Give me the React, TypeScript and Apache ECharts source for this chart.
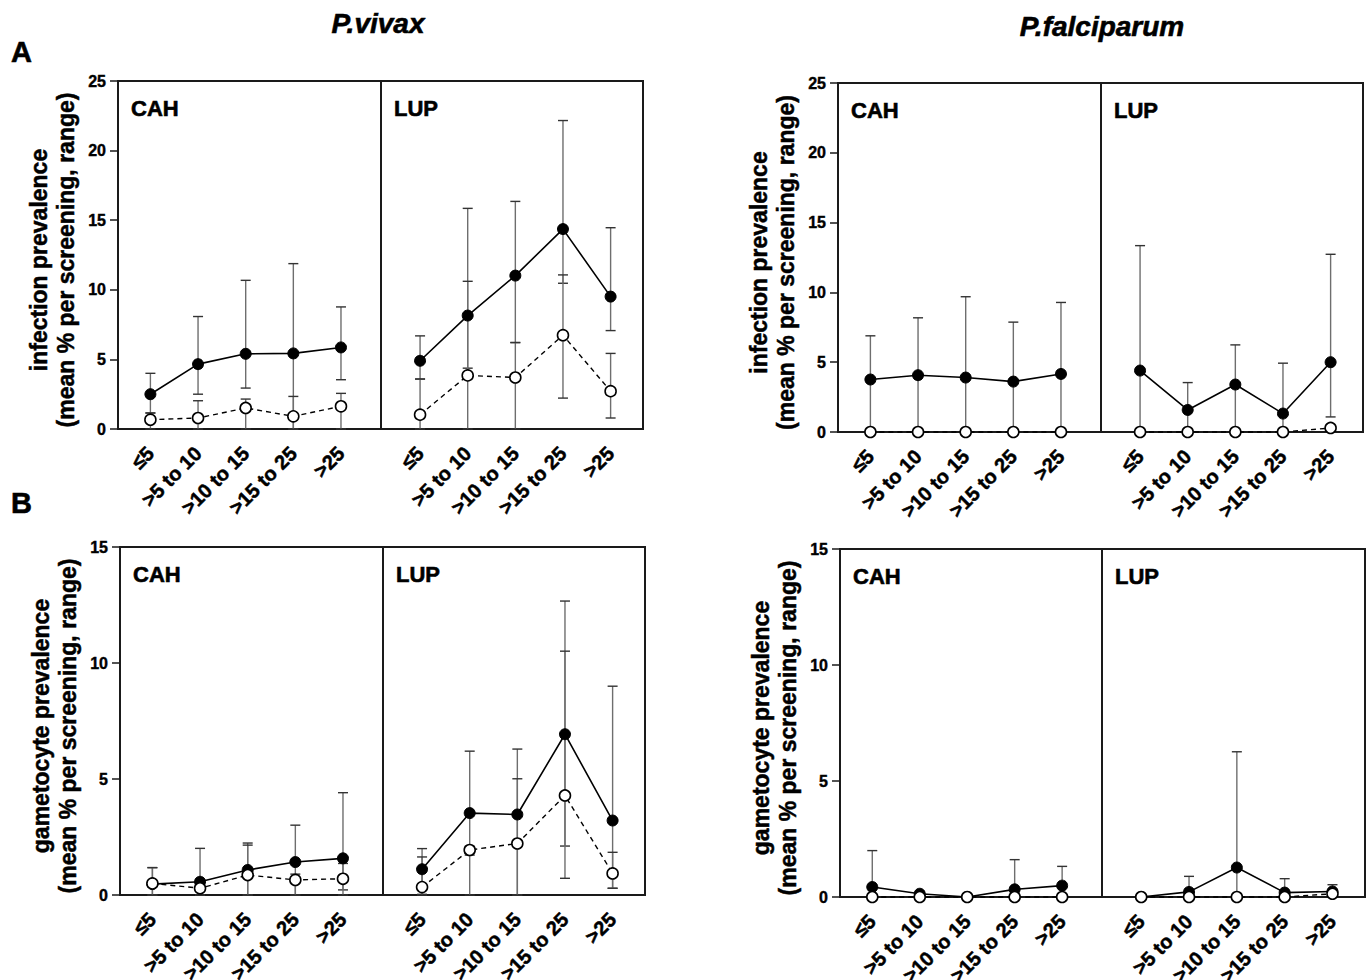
import React, { useEffect, useRef } from "react";
import * as echarts from "echarts";

// ---------- data ----------
const categories = ["≤5", ">5 to 10", ">10 to 15", ">15 to 25", ">25"];
const sites = ["CAH", "LUP"];
const infectionTicks = [0, 5, 10, 15, 20, 25];
const gametocyteTicks = [0, 5, 10, 15];

// A: P.vivax infection prevalence
const vivaxInfCAHFilled = [2.5, 4.66, 5.4, 5.43, 5.86];
const vivaxInfCAHFilledLow = [1.15, 2.5, 2.94, 0, 3.54];
const vivaxInfCAHFilledHigh = [4.0, 8.08, 10.68, 11.88, 8.77];
const vivaxInfCAHOpen = [0.67, 0.79, 1.51, 0.91, 1.63];
const vivaxInfCAHOpenLow = [0, 0, 0, 0, 0];
const vivaxInfCAHOpenHigh = [1.15, 2.03, 2.15, 2.34, 2.56];

const vivaxInfLUPFilled = [4.9, 8.15, 11.02, 14.36, 9.51];
const vivaxInfLUPFilledLow = [3.59, 4.37, 6.21, 10.47, 7.07];
const vivaxInfLUPFilledHigh = [6.69, 15.85, 16.35, 22.16, 14.46];
const vivaxInfLUPOpen = [1.03, 3.85, 3.7, 6.74, 2.72];
const vivaxInfLUPOpenLow = [0, 0, 0, 2.22, 0.79];
const vivaxInfLUPOpenHigh = [3.59, 10.61, 6.21, 11.07, 5.43];

// A: P.falciparum infection prevalence
const falcInfCAHFilled = [3.76, 4.07, 3.9, 3.61, 4.16];
const falcInfCAHFilledLow = [0, 0, 0, 0, 0];
const falcInfCAHFilledHigh = [6.89, 8.18, 9.69, 7.87, 9.28];
const falcInfCAHOpen = [0, 0, 0, 0, 0];
const falcInfCAHOpenLow = [0, 0, 0, 0, 0];
const falcInfCAHOpenHigh = [0, 0, 0, 0, 0];

const falcInfLUPFilled = [4.4, 1.58, 3.4, 1.32, 5.0];
const falcInfLUPFilledLow = [0, 0, 0, 0, 1.08];
const falcInfLUPFilledHigh = [13.35, 3.54, 6.24, 4.93, 12.73];
const falcInfLUPOpen = [0, 0, 0, 0, 0.29];
const falcInfLUPOpenLow = [0, 0, 0, 0, 0];
const falcInfLUPOpenHigh = [0, 0, 0, 0, 0.29];

// B: P.vivax gametocyte prevalence
const vivaxGamCAHFilled = [0.47, 0.57, 1.08, 1.42, 1.58];
const vivaxGamCAHFilledLow = [0, 0, 0, 0, 0.22];
const vivaxGamCAHFilledHigh = [1.18, 2.01, 2.24, 3.01, 4.41];
const vivaxGamCAHOpen = [0.5, 0.29, 0.86, 0.65, 0.7];
const vivaxGamCAHOpenLow = [0, 0, 0, 0, 0];
const vivaxGamCAHOpenHigh = [1.18, 0.45, 2.15, 0.9, 1.36];

const vivaxGamLUPFilled = [1.11, 3.53, 3.47, 6.93, 3.21];
const vivaxGamLUPFilledLow = [0.03, 1.72, 0, 2.11, 0.29];
const vivaxGamLUPFilledHigh = [2.0, 6.2, 6.29, 12.67, 9.0];
const vivaxGamLUPOpen = [0.34, 1.94, 2.22, 4.29, 0.93];
const vivaxGamLUPOpenLow = [0, 0, 0, 0.72, 0.29];
const vivaxGamLUPOpenHigh = [1.64, 2.1, 5.01, 10.51, 1.84];

// B: P.falciparum gametocyte prevalence
const falcGamCAHFilled = [0.43, 0.14, 0, 0.33, 0.49];
const falcGamCAHFilledLow = [0, 0, 0, 0, 0];
const falcGamCAHFilledHigh = [2.0, 0.14, 0, 1.61, 1.32];
const falcGamCAHOpen = [0, 0, 0, 0, 0];
const falcGamCAHOpenLow = [0, 0, 0, 0, 0];
const falcGamCAHOpenHigh = [0, 0, 0, 0, 0];

const falcGamLUPFilled = [0, 0.22, 1.27, 0.19, 0.24];
const falcGamLUPFilledLow = [0, 0, 0, 0, 0];
const falcGamLUPFilledHigh = [0, 0.89, 6.26, 0.79, 0.53];
const falcGamLUPOpen = [0, 0, 0, 0, 0.14];
const falcGamLUPOpenLow = [0, 0, 0, 0, 0];
const falcGamLUPOpenHigh = [0, 0, 0, 0, 0.14];

// ---------- layout ----------
const FONT = "'Liberation Sans', Arial, Helvetica, sans-serif";

type Sub = {
  filled: number[]; filledLow: number[]; filledHigh: number[];
  open: number[]; openLow: number[]; openHigh: number[];
};

const panels = [
  {
    axisX: 118, top: 81, bottom: 429, divider: 381, right: 643,
    ticks: infectionTicks, title: "infection prevalence\n(mean % per screening, range)",
    subs: [
      { filled: vivaxInfCAHFilled, filledLow: vivaxInfCAHFilledLow, filledHigh: vivaxInfCAHFilledHigh, open: vivaxInfCAHOpen, openLow: vivaxInfCAHOpenLow, openHigh: vivaxInfCAHOpenHigh },
      { filled: vivaxInfLUPFilled, filledLow: vivaxInfLUPFilledLow, filledHigh: vivaxInfLUPFilledHigh, open: vivaxInfLUPOpen, openLow: vivaxInfLUPOpenLow, openHigh: vivaxInfLUPOpenHigh },
    ] as Sub[],
  },
  {
    axisX: 838, top: 83, bottom: 432, divider: 1101, right: 1363,
    ticks: infectionTicks, title: "infection prevalence\n(mean % per screening, range)",
    subs: [
      { filled: falcInfCAHFilled, filledLow: falcInfCAHFilledLow, filledHigh: falcInfCAHFilledHigh, open: falcInfCAHOpen, openLow: falcInfCAHOpenLow, openHigh: falcInfCAHOpenHigh },
      { filled: falcInfLUPFilled, filledLow: falcInfLUPFilledLow, filledHigh: falcInfLUPFilledHigh, open: falcInfLUPOpen, openLow: falcInfLUPOpenLow, openHigh: falcInfLUPOpenHigh },
    ] as Sub[],
  },
  {
    axisX: 120, top: 547, bottom: 895, divider: 383, right: 645,
    ticks: gametocyteTicks, title: "gametocyte prevalence\n(mean % per screening, range)",
    subs: [
      { filled: vivaxGamCAHFilled, filledLow: vivaxGamCAHFilledLow, filledHigh: vivaxGamCAHFilledHigh, open: vivaxGamCAHOpen, openLow: vivaxGamCAHOpenLow, openHigh: vivaxGamCAHOpenHigh },
      { filled: vivaxGamLUPFilled, filledLow: vivaxGamLUPFilledLow, filledHigh: vivaxGamLUPFilledHigh, open: vivaxGamLUPOpen, openLow: vivaxGamLUPOpenLow, openHigh: vivaxGamLUPOpenHigh },
    ] as Sub[],
  },
  {
    axisX: 840, top: 549, bottom: 897, divider: 1102, right: 1365,
    ticks: gametocyteTicks, title: "gametocyte prevalence\n(mean % per screening, range)",
    subs: [
      { filled: falcGamCAHFilled, filledLow: falcGamCAHFilledLow, filledHigh: falcGamCAHFilledHigh, open: falcGamCAHOpen, openLow: falcGamCAHOpenLow, openHigh: falcGamCAHOpenHigh },
      { filled: falcGamLUPFilled, filledLow: falcGamLUPFilledLow, filledHigh: falcGamLUPFilledHigh, open: falcGamLUPOpen, openLow: falcGamLUPOpenLow, openHigh: falcGamLUPOpenHigh },
    ] as Sub[],
  },
];

const xRanges = [
  { min: -0.68, max: 4.84 },
  { min: -0.82, max: 4.68 },
];

function errorRender(params: any, api: any) {
  const x = api.value(0);
  const lo = api.value(1);
  const hi = api.value(2);
  if (hi <= lo) return { type: "group", children: [] };
  const pLo = api.coord([x, lo]);
  const pHi = api.coord([x, hi]);
  const cw = 5;
  return {
    type: "group",
    children: [
      { type: "line", shape: { x1: pLo[0], y1: pLo[1], x2: pHi[0], y2: pHi[1] }, style: { stroke: "#6e6e6e", lineWidth: 1.4 } },
      { type: "line", shape: { x1: pHi[0] - cw, y1: pHi[1], x2: pHi[0] + cw, y2: pHi[1] }, style: { stroke: "#333", lineWidth: 1.4 } },
      { type: "line", shape: { x1: pLo[0] - cw, y1: pLo[1], x2: pLo[0] + cw, y2: pLo[1] }, style: { stroke: "#333", lineWidth: 1.4 } },
    ],
  };
}

function buildOption() {
  const grid: any[] = [];
  const xAxis: any[] = [];
  const yAxis: any[] = [];
  const series: any[] = [];
  const graphic: any[] = [];

  panels.forEach((p) => {
    const yMax = p.ticks[p.ticks.length - 1];
    const step = p.ticks[1] - p.ticks[0];
    const bounds = [
      [p.axisX, p.divider],
      [p.divider, p.right],
    ];
    p.subs.forEach((s, si) => {
      const gi = grid.length;
      grid.push({
        left: bounds[si][0], top: p.top,
        width: bounds[si][1] - bounds[si][0], height: p.bottom - p.top,
        show: true, borderColor: "#1a1a1a", borderWidth: 2, backgroundColor: "transparent",
        containLabel: false, outerBoundsMode: "none",
      });
      xAxis.push({
        type: "value", gridIndex: gi, min: xRanges[si].min, max: xRanges[si].max,
        axisLine: { show: false }, axisTick: { show: false }, splitLine: { show: false },
        axisLabel: {
          customValues: [0, 1, 2, 3, 4],
          formatter: (v: number) => categories[Math.round(v)] ?? "",
          rotate: 45, margin: 21, fontSize: 20, fontWeight: "bold", color: "#000", fontFamily: FONT,
          textBorderColor: "#000", textBorderWidth: 0.5,
        },
      });
      yAxis.push({
        type: "value", gridIndex: gi, min: 0, max: yMax, interval: step,
        show: si === 0,
        axisLine: { show: si === 0, onZero: false, lineStyle: { color: "#1a1a1a", width: 2 } },
        axisTick: { show: si === 0, length: 8, lineStyle: { color: "#1a1a1a", width: 1.5 } },
        axisLabel: {
          show: si === 0, fontSize: 16, fontWeight: "bold", color: "#000", fontFamily: FONT, margin: 12,
          textBorderColor: "#000", textBorderWidth: 0.4,
        },
        splitLine: { show: false },
      });
      series.push({
        type: "custom", xAxisIndex: gi, yAxisIndex: gi, renderItem: errorRender, clip: false, z: 1,
        encode: { x: 0, y: [1, 2] },
        data: s.filledLow.map((lo, i) => [i, lo, s.filledHigh[i]]),
      });
      series.push({
        type: "custom", xAxisIndex: gi, yAxisIndex: gi, renderItem: errorRender, clip: false, z: 1,
        encode: { x: 0, y: [1, 2] },
        data: s.openLow.map((lo, i) => [i, lo, s.openHigh[i]]),
      });
      series.push({
        type: "line", name: "filled", xAxisIndex: gi, yAxisIndex: gi, clip: false, z: 3,
        data: s.filled.map((v, i) => [i, v]),
        symbol: "circle", symbolSize: 11,
        itemStyle: { color: "#000", borderColor: "#000", borderWidth: 1 },
        lineStyle: { color: "#000", width: 1.6 },
      });
      series.push({
        type: "line", name: "open", xAxisIndex: gi, yAxisIndex: gi, clip: false, z: 4,
        data: s.open.map((v, i) => [i, v]),
        symbol: "circle", symbolSize: 11,
        itemStyle: { color: "#fff", borderColor: "#000", borderWidth: 1.6 },
        lineStyle: { color: "#000", width: 1.4, type: [5, 4] },
      });
      graphic.push({
        type: "text", x: bounds[si][0] + 13, y: p.top + 27,
        style: {
          text: sites[si], fontSize: 22, fontWeight: "bold", fontFamily: FONT, fill: "#000",
          stroke: "#000", lineWidth: 0.6, align: "left", verticalAlign: "middle",
        },
      });
    });
    const cy = (p.top + p.bottom) / 2 + 5;
    graphic.push({
      type: "text", x: p.axisX - 66, y: cy, rotation: Math.PI / 2,
      style: {
        text: p.title, fontSize: 23, fontWeight: "bold", fontFamily: FONT, fill: "#000",
        stroke: "#000", lineWidth: 0.5,
        align: "center", verticalAlign: "middle", lineHeight: 27,
      },
    });
  });

  const big = { fontWeight: "bold", fontFamily: FONT, fill: "#000", stroke: "#000", lineWidth: 0.6, verticalAlign: "middle" };
  graphic.push(
    { type: "text", x: 378, y: 23, style: { ...big, text: "P.vivax", fontSize: 28, fontStyle: "italic", align: "center" } },
    { type: "text", x: 1102, y: 26, style: { ...big, text: "P.falciparum", fontSize: 28, fontStyle: "italic", align: "center" } },
    { type: "text", x: 11, y: 52, style: { ...big, text: "A", fontSize: 29, align: "left" } },
    { type: "text", x: 11, y: 503, style: { ...big, text: "B", fontSize: 29, align: "left" } },
  );

  return { animation: false, backgroundColor: "#fff", grid, xAxis, yAxis, series, graphic };
}

export default function App() {
  const ref = useRef<HTMLDivElement>(null);
  useEffect(() => {
    if (!ref.current) return;
    const chart = echarts.init(ref.current, undefined, { renderer: "svg" });
    chart.setOption(buildOption() as any);
    return () => chart.dispose();
  }, []);
  return <div ref={ref} style={{ position: "absolute", left: 0, top: 0, width: 1367, height: 980 }} />;
}
